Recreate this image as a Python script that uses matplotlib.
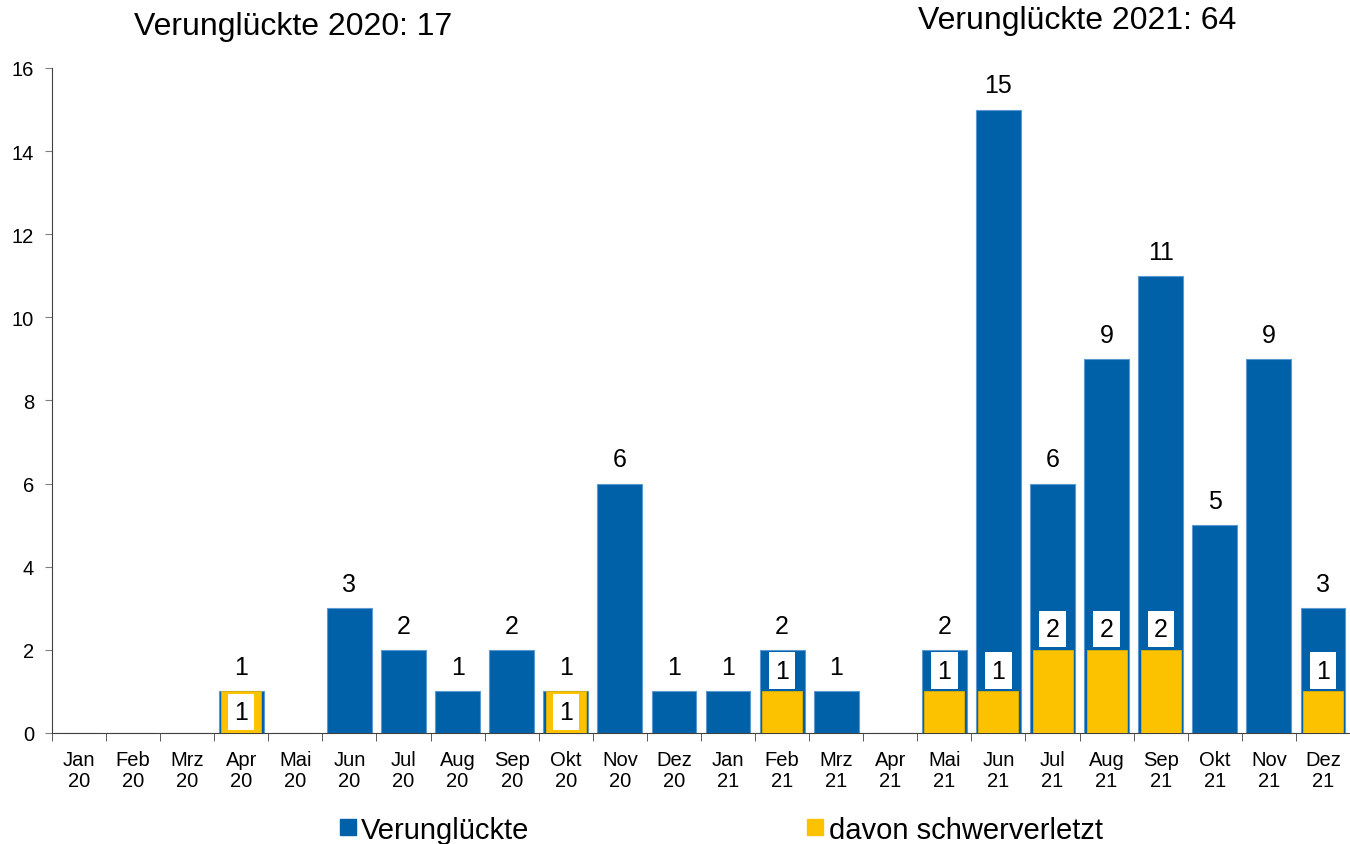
import numpy as np
import matplotlib
matplotlib.use('Agg')
import matplotlib.pyplot as plt
from matplotlib.lines import Line2D

plt.rcParams['font.family'] = ['Liberation Sans', 'DejaVu Sans']

months = ['Jan', 'Feb', 'Mrz', 'Apr', 'Mai', 'Jun', 'Jul', 'Aug', 'Sep', 'Okt', 'Nov', 'Dez']
years = ['20', '21']
labels = [m + '\n' + y for y in years for m in months]

verunglueckte = [0, 0, 0, 1, 0, 3, 2, 1, 2, 1, 6, 1,
                 1, 2, 1, 0, 2, 15, 6, 9, 11, 5, 9, 3]
schwerverletzt = [0, 0, 0, 1, 0, 0, 0, 0, 0, 1, 0, 0,
                  0, 1, 0, 0, 1, 1, 2, 2, 2, 0, 0, 1]

blue = '#0060a8'
yellow = '#fcc200'

fig = plt.figure(figsize=(13.5, 8.45), dpi=100)
ax = fig.add_axes([0.0385, 0.1314, 0.9615, 0.787])

x = np.arange(len(labels))
ax.bar(x, verunglueckte, width=0.83, color=blue, edgecolor='#5a9ad0', linewidth=0.8, zorder=2)
ax.bar(x, schwerverletzt, width=0.74, color=yellow, edgecolor='#e0b000', linewidth=0.6, zorder=3)

for i, (v, s) in enumerate(zip(verunglueckte, schwerverletzt)):
    if v > 0:
        ax.text(i, v + 0.58, str(v), ha='center', va='center', fontsize=18, zorder=5)
    if s > 0:
        ys = 0.5 if s == v else s + 0.5
        ax.text(i, ys, str(s), ha='center', va='center', fontsize=18, zorder=5,
                bbox=dict(facecolor='white', edgecolor='none', pad=4.5))

ax.set_xlim(-0.5, 23.45)
ax.set_ylim(0, 16)
ax.set_yticks(range(0, 17, 2))
ax.tick_params(axis='y', labelsize=14.5, length=5, color='#808080', pad=8)
ax.set_xticks(x)
ax.set_xticklabels(labels, fontsize=14.5, linespacing=1.15)
ax.set_xticks(np.arange(-0.5, 24, 1), minor=True)
ax.tick_params(axis='x', which='major', length=0, pad=12)
ax.tick_params(axis='x', which='minor', length=6, color='#404040')
ax.spines['top'].set_visible(False)
ax.spines['right'].set_visible(False)
ax.spines['left'].set_color('#404040')
ax.spines['bottom'].set_color('#404040')

fig.text(0.217, 0.968, 'Verunglückte 2020: 17', ha='center', va='center', fontsize=23)
fig.text(0.798, 0.975, 'Verunglückte 2021: 64', ha='center', va='center', fontsize=23)

handles = [Line2D([], [], marker='s', linestyle='none', color=blue, markersize=12),
           Line2D([], [], marker='s', linestyle='none', color=yellow, markersize=12)]
fig.legend(handles, ['Verunglückte', 'davon schwerverletzt'], loc='center',
           bbox_to_anchor=(0.533, 0.017), ncol=2, frameon=False, fontsize=21,
           handletextpad=0.05, columnspacing=9.4, handlelength=0.8)

fig.savefig('out.png', dpi=100)
